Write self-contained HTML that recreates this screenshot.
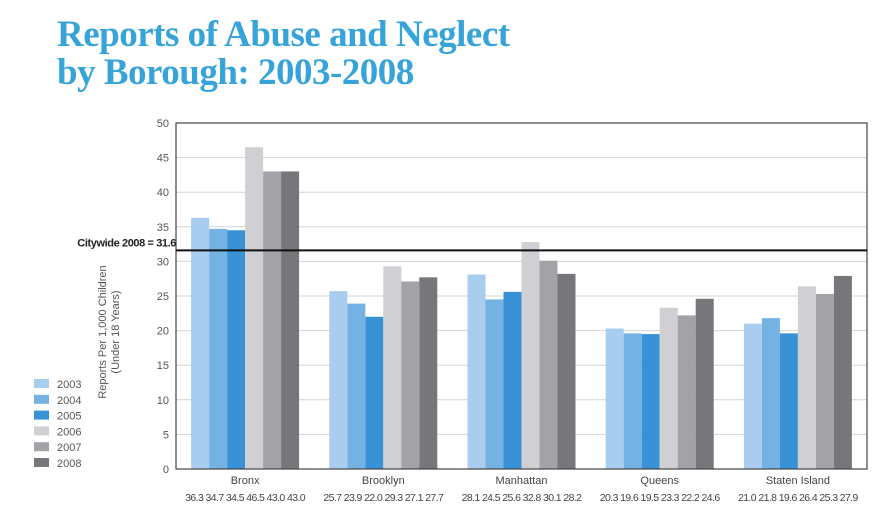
<!DOCTYPE html>
<html><head><meta charset="utf-8"><style>
body{margin:0;background:#fff;width:884px;height:525px;overflow:hidden;font-family:"Liberation Sans",sans-serif}
.title{position:absolute;left:57px;top:16px;font-family:"Liberation Serif",serif;font-weight:bold;color:#36a3d9;font-size:37px;line-height:38px;letter-spacing:-0.5px}
</style></head><body>
<div class="title">Reports of Abuse and Neglect<br>by Borough: 2003-2008</div>
<svg id="c" width="884" height="525" style="position:absolute;left:0;top:0"></svg>
<script>
const categories=["Bronx","Brooklyn","Manhattan","Queens","Staten Island"];
const years=["2003","2004","2005","2006","2007","2008"];
const s2003=[36.3,25.7,28.1,20.3,21.0];
const s2004=[34.7,23.9,24.5,19.6,21.8];
const s2005=[34.5,22.0,25.6,19.5,19.6];
const s2006=[46.5,29.3,32.8,23.3,26.4];
const s2007=[43.0,27.1,30.1,22.2,25.3];
const s2008=[43.0,27.7,28.2,24.6,27.9];
const yTicks=[0,5,10,15,20,25,30,35,40,45,50];
const citywide=31.6;
const series=[s2003,s2004,s2005,s2006,s2007,s2008];
const colors=["#a9cdee","#75b2e4","#3a92d6","#d0d0d4","#a3a3a7","#77777b"];
const NS="http://www.w3.org/2000/svg";
const svg=document.getElementById('c');
const L=176,R=867,T=123,B=469;
const y=v=>B-(v/50)*(B-T);
const band=(R-L)/categories.length;
const bw=18,pad=(band-bw*6)/2;
function mk(t,a,txt){const e=document.createElementNS(NS,t);for(const k in a)e.setAttribute(k,a[k]);if(txt!==undefined)e.textContent=txt;svg.appendChild(e);return e;}
yTicks.forEach(v=>{
 if(v>0&&v<50){const g=mk('line',{x1:L,x2:R,y1:y(v),y2:y(v),stroke:'#d4d4d4','stroke-width':1});
 
 }
 const t=mk('text',{x:L-7,y:y(v)+4,'text-anchor':'end','font-size':11,fill:'#555'},v);
 
 
});
series.forEach((s,j)=>s.forEach((v,i)=>{
 const r=mk('rect',{x:L+band*i+pad+bw*j,y:y(v),width:bw,height:B-y(v),fill:colors[j]});
 
 
}));
categories.forEach((c,i)=>{
 const cx=L+band*i+band/2;
 const t=mk('text',{x:cx,y:B+15,'text-anchor':'middle','font-size':11,fill:'#444'},c);
 
 
 const vals=series.map(s=>s[i].toFixed(1)).join(' ');
 const t2=mk('text',{x:cx,y:B+32,'text-anchor':'middle','font-size':10.5,fill:'#444','letter-spacing':'-0.6'},vals);
 
 
});
const fr=mk('rect',{x:L,y:T,width:R-L,height:B-T,fill:'none',stroke:'#444','stroke-width':1.2});


const cl=mk('line',{x1:L,x2:R,y1:y(citywide),y2:y(citywide),stroke:'#111','stroke-width':2});


const ct=mk('text',{x:L,y:y(citywide)-4,'text-anchor':'end','font-size':11,'font-weight':'bold',fill:'#222','letter-spacing':'-0.4'},'Citywide 2008 = '+citywide);


const yt=mk('text',{transform:'translate(106,332) rotate(-90)','text-anchor':'middle','font-size':11,fill:'#555'});


const t1=document.createElementNS(NS,'tspan');t1.setAttribute('x',0);t1.setAttribute('y',0);t1.textContent='Reports Per 1,000 Children';yt.appendChild(t1);
const t2=document.createElementNS(NS,'tspan');t2.setAttribute('x',0);t2.setAttribute('y',13);t2.textContent='(Under 18 Years)';yt.appendChild(t2);
years.forEach((yr,j)=>{
 const yy=383+j*15.8;
 const r=mk('rect',{x:34,y:yy-4,width:15,height:9,fill:colors[j]});
 
 
 const t=mk('text',{x:57,y:yy+5,'font-size':11,fill:'#555'},yr);
 
 
});
</script>
</body></html>
